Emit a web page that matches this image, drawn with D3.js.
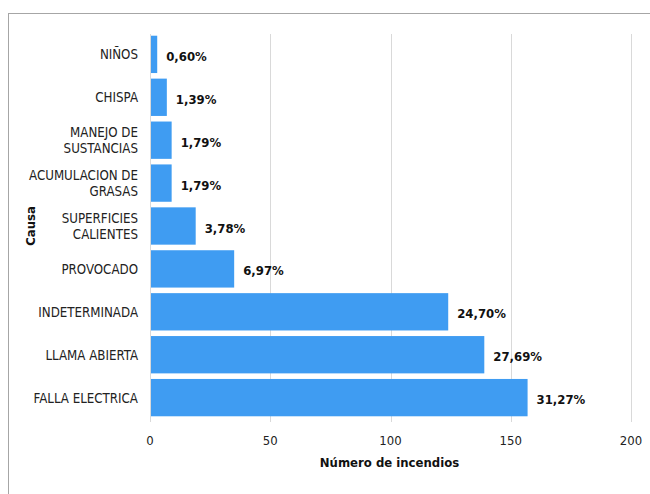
<!DOCTYPE html>
<html>
<head>
<meta charset="utf-8">
<script src="https://cdn.jsdelivr.net/npm/d3@7"></script>
<style>
  body { margin: 0; background: #fff; }
  svg text { font-family: "DejaVu Sans Condensed", "DejaVu Sans", sans-serif; }
</style>
</head>
<body>
<svg id="chart" width="650" height="494"></svg>
<script>
var causes = [
  ["NIÑOS"],
  ["CHISPA"],
  ["MANEJO DE", "SUSTANCIAS"],
  ["ACUMULACION DE", "GRASAS"],
  ["SUPERFICIES", "CALIENTES"],
  ["PROVOCADO"],
  ["INDETERMINADA"],
  ["LLAMA ABIERTA"],
  ["FALLA ELECTRICA"]
];
var fires = [3, 7, 9, 9, 19, 35, 124, 139, 157];
var shares = ["0,60%", "1,39%", "1,79%", "1,79%", "3,78%", "6,97%", "24,70%", "27,69%", "31,27%"];
var xTicks = [0, 50, 100, 150, 200];

(function () {
  var svg = d3.select("#chart");
  var pLeft = 150, pRight = 631, pTop = 34, pBottom = 418;

  // outer frame
  svg.append("rect").attr("x", 8.5).attr("y", 13.5).attr("width", 700).attr("height", 600)
    .attr("fill", "none").attr("stroke", "#a6a6a6").attr("stroke-width", 1);

  var x = d3.scaleLinear().domain([0, 200]).range([pLeft, pRight]);
  var y = d3.scaleBand().domain(d3.range(causes.length)).range([pTop, pBottom]).paddingInner(0.13).paddingOuter(0.04);

  // gridlines
  svg.append("g").selectAll("line").data(xTicks).enter().append("line")
    .attr("x1", function (d) { return Math.round(x(d)) + 0.5; }).attr("x2", function (d) { return Math.round(x(d)) + 0.5; })
    .attr("y1", pTop).attr("y2", pBottom + 4)
    .attr("stroke", "#d9d9d9").attr("stroke-width", 1);

  // tick labels
  svg.append("g").selectAll("text").data(xTicks).enter().append("text")
    .attr("x", function (d) { return x(d); }).attr("y", 445)
    .attr("text-anchor", "middle").attr("font-size", 13).attr("fill", "#222")
    .text(function (d) { return d; });

  // bars
  svg.append("g").selectAll("rect").data(fires).enter().append("rect")
    .attr("x", x(0) + 1).attr("y", function (d, i) { return y(i); })
    .attr("width", function (d) { return x(d) - x(0) - 1; })
    .attr("height", y.bandwidth())
    .attr("fill", "#3f9cf2");

  // value labels
  svg.append("g").selectAll("text").data(fires).enter().append("text")
    .attr("x", function (d) { return x(d) + 9; })
    .attr("y", function (d, i) { return y(i) + y.bandwidth() / 2 + 6.5; })
    .attr("font-size", 13).attr("font-weight", "bold").attr("fill", "#111")
    .text(function (d, i) { return shares[i]; });

  // category labels
  var cat = svg.append("g").selectAll("text").data(causes).enter().append("text")
    .attr("text-anchor", "end").attr("font-size", 13.2).attr("fill", "#222")
    .attr("transform", function (d, i) {
      var cy = y(i) + y.bandwidth() / 2;
      return "translate(138," + (cy + 5 - (d.length - 1) * 8) + ")";
    });
  cat.selectAll("tspan").data(function (d) { return d; }).enter().append("tspan")
    .attr("x", 0).attr("dy", function (d, i) { return i === 0 ? 0 : 16; })
    .text(function (d) { return d; });

  // axis titles
  svg.append("text").attr("x", (pLeft + pRight) / 2 - 1).attr("y", 467)
    .attr("text-anchor", "middle").attr("font-size", 13).attr("font-weight", "bold").attr("fill", "#111")
    .text("Número de incendios");
  svg.append("text").attr("transform", "translate(35,226) rotate(-90)")
    .attr("text-anchor", "middle").attr("font-size", 13).attr("font-weight", "bold").attr("fill", "#111")
    .text("Causa");
})();
</script>
</body>
</html>
